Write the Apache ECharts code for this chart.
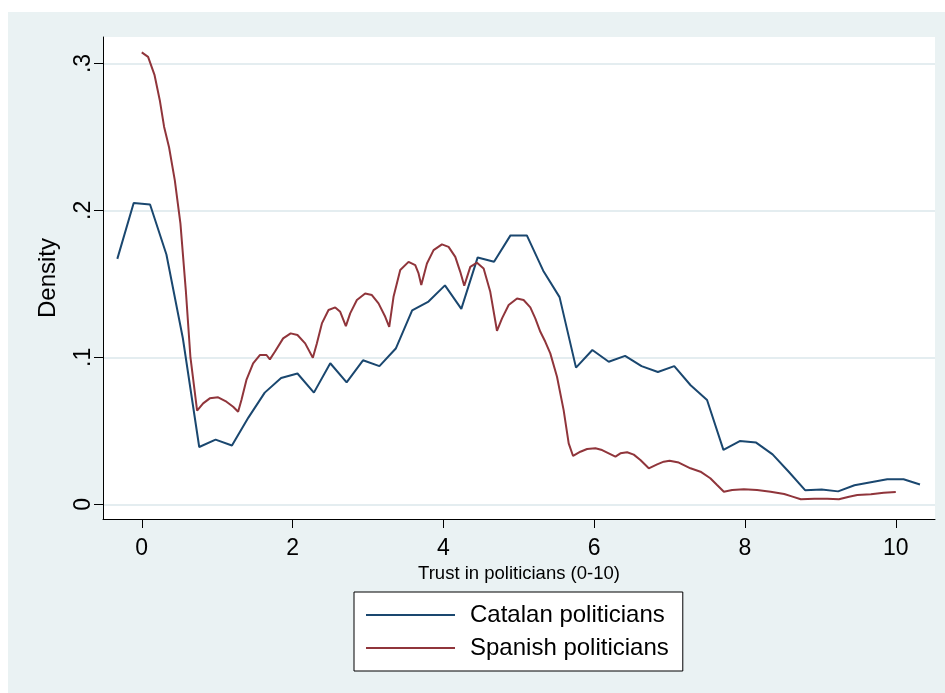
<!DOCTYPE html>
<html>
<head>
<meta charset="utf-8">
<script src="https://cdn.jsdelivr.net/npm/echarts@6/dist/echarts.min.js"></script>
<style>
html,body{margin:0;padding:0;background:#fff;}
#wrap{position:relative;width:945px;height:693px;background:#fff;overflow:hidden;}
#chart{position:absolute;left:8px;top:12px;width:937px;height:681px;}
</style>
</head>
<body>
<div id="wrap"><div id="chart"></div></div>
<script>
// Series names
const seriesNames = ['Catalan politicians', 'Spanish politicians'];

// Catalan politicians: kdensity evaluation points (x) and density (y)
const catalanX = [-0.324,-0.107,0.110,0.327,0.545,0.762,0.979,1.196,1.414,1.631,1.848,2.065,2.283,2.500,2.717,2.934,3.152,3.369,3.586,3.803,4.021,4.238,4.455,4.672,4.890,5.107,5.324,5.541,5.759,5.976,6.193,6.410,6.628,6.845,7.062,7.279,7.497,7.714,7.931,8.148,8.366,8.583,8.800,9.017,9.235,9.452,9.669,9.886,10.103,10.321];
const catalanY = [0.167,0.205,0.204,0.170,0.113,0.039,0.044,0.040,0.059,0.076,0.086,0.089,0.076,0.096,0.083,0.098,0.094,0.106,0.132,0.138,0.149,0.133,0.168,0.165,0.183,0.183,0.159,0.141,0.093,0.105,0.097,0.101,0.094,0.090,0.094,0.081,0.071,0.037,0.043,0.042,0.034,0.022,0.0095,0.010,0.0088,0.013,0.015,0.017,0.017,0.0135];

// Spanish politicians
const spanishX = [0,0.084,0.17,0.239,0.296,0.362,0.438,0.513,0.584,0.645,0.734,0.814,0.902,1.013,1.123,1.212,1.278,1.322,1.388,1.477,1.566,1.654,1.699,1.765,1.875,1.975,2.065,2.167,2.269,2.322,2.389,2.477,2.566,2.632,2.707,2.764,2.853,2.963,3.052,3.14,3.229,3.282,3.339,3.428,3.538,3.627,3.671,3.707,3.782,3.87,3.981,4.069,4.158,4.224,4.277,4.357,4.446,4.534,4.622,4.711,4.778,4.866,4.977,5.064,5.153,5.219,5.286,5.352,5.418,5.507,5.595,5.662,5.72,5.817,5.906,6.016,6.105,6.193,6.282,6.348,6.437,6.525,6.613,6.724,6.835,6.923,7.0,7.122,7.277,7.41,7.54,7.63,7.72,7.83,7.985,8.16,8.34,8.52,8.63,8.74,8.92,9.09,9.245,9.38,9.49,9.67,9.84,10.0];
const spanishY = [0.3075,0.3045,0.292,0.275,0.257,0.243,0.2206,0.191,0.1458,0.1004,0.0637,0.0687,0.0721,0.0728,0.0698,0.0664,0.063,0.071,0.0846,0.0959,0.1016,0.1016,0.0986,0.1038,0.1129,0.1163,0.1152,0.1095,0.0997,0.1095,0.1231,0.1322,0.134,0.131,0.1213,0.1299,0.139,0.1435,0.1424,0.1367,0.1276,0.1208,0.1412,0.1594,0.165,0.1628,0.1571,0.1492,0.1639,0.173,0.1769,0.1752,0.1684,0.1582,0.1487,0.1616,0.1644,0.1605,0.1446,0.1181,0.1265,0.1356,0.1401,0.139,0.134,0.1265,0.1174,0.1106,0.1027,0.0868,0.0641,0.0415,0.0329,0.0358,0.0376,0.0381,0.0369,0.0347,0.0324,0.0347,0.0354,0.0338,0.0301,0.0245,0.0272,0.029,0.0297,0.0284,0.0245,0.0222,0.0177,0.0131,0.0086,0.0097,0.0102,0.0097,0.0086,0.007,0.0052,0.0034,0.0038,0.0038,0.0034,0.0052,0.0063,0.0068,0.0079,0.0084];

// Ticks
const xTickValues = [0,2,4,6,8,10];
const xTickLabels = ['0','2','4','6','8','10'];
const yTickValues = [0,0.1,0.2,0.3];
const yTickLabels = ['0','.1','.2','.3'];

const xTitle = 'Trust in politicians (0-10)';
const yTitle = 'Density';

const zip = (xs, ys) => xs.map((x, i) => [x, ys[i]]);
const FONT = '"Liberation Sans", Arial, sans-serif';

const chart = echarts.init(document.getElementById('chart'), null, {renderer: 'canvas'});
chart.setOption({
  animation: false,
  backgroundColor: '#EAF2F3',
  grid: {
    left: 95, top: 25, width: 832, height: 482,
    show: true, backgroundColor: '#ffffff', borderWidth: 0
  },
  legend: {
    orient: 'vertical',
    left: 346, top: 580,
    data: seriesNames,
    backgroundColor: '#ffffff',
    borderColor: '#000000',
    borderWidth: 1,
    borderRadius: 0,
    padding: [11, 14, 11, 11],
    itemWidth: 89,
    itemHeight: 24,
    itemGap: 9,
    itemStyle: {opacity: 0},
    lineStyle: {width: 2},
    textStyle: {fontSize: 24, color: '#000', fontFamily: FONT, padding: [0, 0, 0, 10]}
  },
  xAxis: {
    type: 'value',
    min: -0.514, max: 10.52,
    name: xTitle,
    nameLocation: 'middle',
    nameGap: 40,
    nameTextStyle: {fontSize: 18.5, color: '#000', fontFamily: FONT},
    axisLine: {show: true, onZero: false, lineStyle: {color: '#000', width: 1}},
    axisTick: {show: true, inside: false, length: 9, lineStyle: {color: '#000', width: 1}, customValues: xTickValues},
    axisLabel: {
      show: true, fontSize: 23, color: '#000', fontFamily: FONT, margin: 18,
      customValues: xTickValues,
      formatter: v => { const i = xTickValues.findIndex(t => Math.abs(t - v) < 1e-9); return i >= 0 ? xTickLabels[i] : ''; }
    },
    splitLine: {show: false}
  },
  yAxis: {
    type: 'value',
    min: -0.01, max: 0.318,
    name: yTitle,
    nameLocation: 'middle',
    nameGap: 43,
    nameRotate: 90,
    nameTextStyle: {fontSize: 24, color: '#000', fontFamily: FONT},
    axisLine: {show: true, onZero: false, lineStyle: {color: '#000', width: 1}},
    axisTick: {show: true, inside: false, length: 9, lineStyle: {color: '#000', width: 1}, customValues: yTickValues},
    axisLabel: {
      show: true, fontSize: 23, color: '#000', fontFamily: FONT, margin: 8, rotate: 90,
      customValues: yTickValues,
      formatter: v => { const i = yTickValues.findIndex(t => Math.abs(t - v) < 1e-9); return i >= 0 ? yTickLabels[i] : ''; }
    },
    splitLine: {show: true, lineStyle: {color: '#E4EDF0', width: 2}}
  },
  series: [
    {
      name: seriesNames[0], type: 'line', data: zip(catalanX, catalanY),
      symbol: 'none', showSymbol: false,
      lineStyle: {color: '#1A476F', width: 2},
      itemStyle: {color: '#1A476F'}
    },
    {
      name: seriesNames[1], type: 'line', data: zip(spanishX, spanishY),
      symbol: 'none', showSymbol: false,
      lineStyle: {color: '#90353B', width: 2},
      itemStyle: {color: '#90353B'}
    }
  ]
});
</script>
</body>
</html>
